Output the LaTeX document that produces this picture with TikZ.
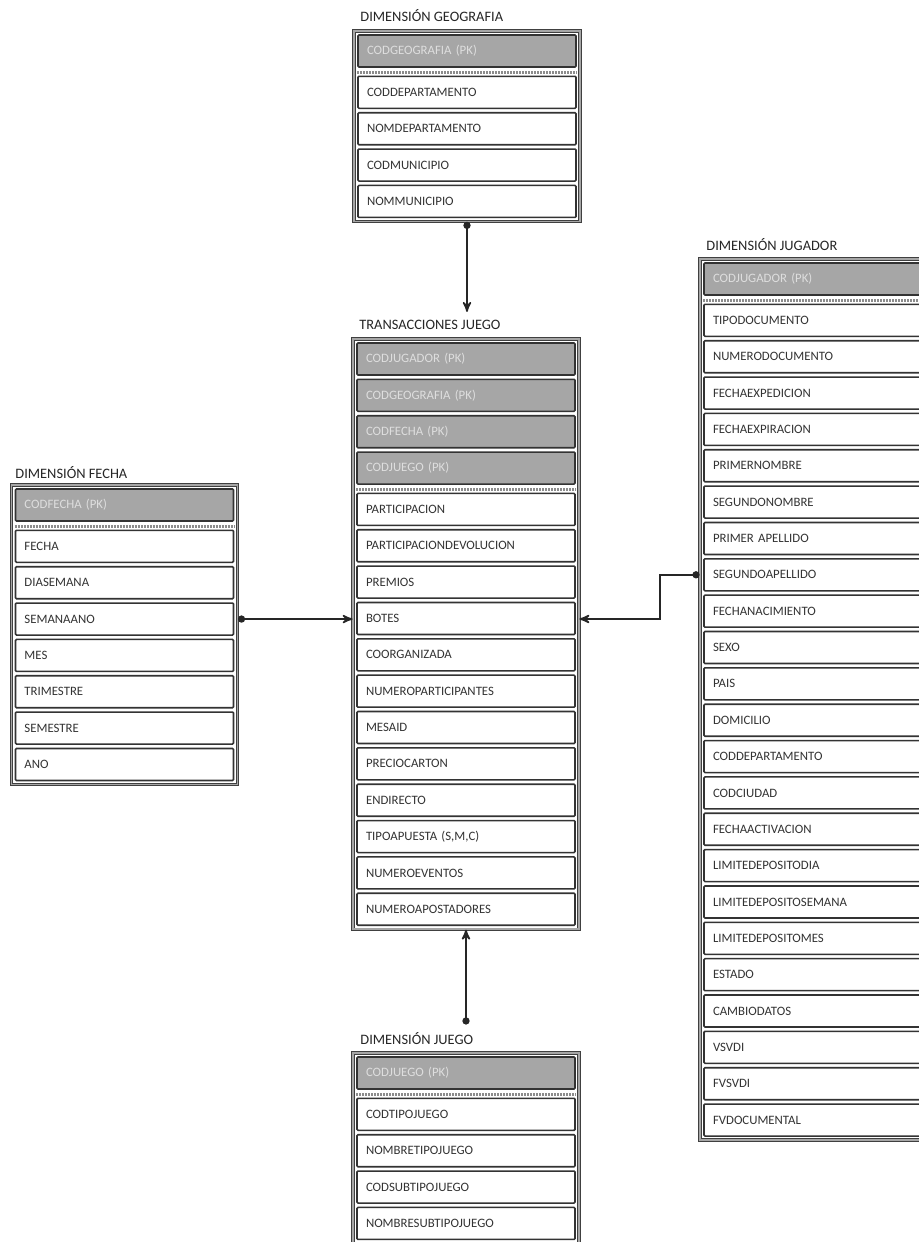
\documentclass[tikz,border=0pt]{standalone}
\usepackage{fontspec}
\setmainfont{Carlito}
\usepackage{tikz}
\usetikzlibrary{arrows,arrows.meta,fit}

\begin{document}
\begin{tikzpicture}
[x=0.5pt,y=-0.5pt,
  campo/.style={draw=black!80,line width=0.8pt,fill=white,rounded corners=0.5pt,
    minimum height=16pt,text width=100pt,inner xsep=4.5pt,inner ysep=0pt,align=left,
    font=\fontsize{6.4}{7}\selectfont,text=black!80},
  clave/.style={campo,fill=black!35,text=black!13},
  marco/.style={draw=black!75,line width=0.4pt,double=black!35,double distance=0.8pt,inner sep=1.6pt},
  titulo/.style={anchor=west,inner sep=0pt,font=\fontsize{7.2}{8}\selectfont,text=black!85},
  separa/.style={draw=black!45,line width=1.6pt,dash pattern=on 1pt off 0.5pt},
  enlace/.style={{Circle[length=3.6pt,width=3.6pt]}->,>=stealth',draw=black!85,line width=0.8pt}]
  \path[fill=white,use as bounding box] (0,0) rectangle (918,1242);

  % dimension geografia
  \node[titulo] (tgeo) at (360,16) {DIMENSIÓN GEOGRAFIA};
  \node[clave] (geopk) at (467,51) {CODGEOGRAFIA (PK)};
  \foreach \t [count=\i] in {CODDEPARTAMENTO,NOMDEPARTAMENTO,CODMUNICIPIO,NOMMUNICIPIO}
    \node[campo] (geo\i) at (467,{92.35+(\i-1)*36.35}) {\t};
  \node[marco,fit=(geopk)(geo4)] (fgeo) {};
  \draw[separa] ([yshift=-2.25pt]geopk.south west) -- ([yshift=-2.25pt]geopk.south east);

  % tabla de hechos
  \node[titulo] (ttrans) at (359,325) {TRANSACCIONES JUEGO};
  \foreach \t [count=\i] in {CODJUGADOR (PK),CODGEOGRAFIA (PK),CODFECHA (PK),CODJUEGO (PK)}
    \node[clave] (transpk\i) at (466,{359+(\i-1)*36.35}) {\t};
  \foreach \t [count=\i] in {PARTICIPACION,PARTICIPACIONDEVOLUCION,PREMIOS,BOTES,
      COORGANIZADA,NUMEROPARTICIPANTES,MESAID,PRECIOCARTON,ENDIRECTO,
      {TIPOAPUESTA (S,M,C)},NUMEROEVENTOS,NUMEROAPOSTADORES}
    \node[campo] (trans\i) at (466,{509.4+(\i-1)*36.35}) {\t};
  \node[marco,fit=(transpk1)(trans12)] (ftrans) {};
  \draw[separa] ([yshift=-2.25pt]transpk4.south west) -- ([yshift=-2.25pt]transpk4.south east);

  % dimension fecha
  \node[titulo] (tfecha) at (15,473) {DIMENSIÓN FECHA};
  \node[clave] (fechapk) at (124.5,505) {CODFECHA (PK)};
  \foreach \t [count=\i] in {FECHA,DIASEMANA,SEMANAANO,MES,TRIMESTRE,SEMESTRE,ANO}
    \node[campo] (fecha\i) at (124.5,{546.35+(\i-1)*36.35}) {\t};
  \node[marco,fit=(fechapk)(fecha7)] (ffecha) {};
  \draw[separa] ([yshift=-2.25pt]fechapk.south west) -- ([yshift=-2.25pt]fechapk.south east);

  % dimension jugador
  \node[titulo] (tjug) at (706,245) {DIMENSIÓN JUGADOR};
  \node[clave] (jugpk) at (813,279) {CODJUGADOR (PK)};
  \foreach \t [count=\i] in {TIPODOCUMENTO,NUMERODOCUMENTO,FECHAEXPEDICION,FECHAEXPIRACION,
      PRIMERNOMBRE,SEGUNDONOMBRE,PRIMER APELLIDO,SEGUNDOAPELLIDO,FECHANACIMIENTO,
      SEXO,PAIS,DOMICILIO,CODDEPARTAMENTO,CODCIUDAD,FECHAACTIVACION,
      LIMITEDEPOSITODIA,LIMITEDEPOSITOSEMANA,LIMITEDEPOSITOMES,ESTADO,
      CAMBIODATOS,VSVDI,FVSVDI,FVDOCUMENTAL}
    \node[campo] (jug\i) at (813,{320.35+(\i-1)*36.35}) {\t};
  \node[marco,fit=(jugpk)(jug23)] (fjug) {};
  \draw[separa] ([yshift=-2.25pt]jugpk.south west) -- ([yshift=-2.25pt]jugpk.south east);

  % dimension juego
  \node[titulo] (tjuego) at (360,1039) {DIMENSIÓN JUEGO};
  \node[clave] (juegopk) at (466,1073) {CODJUEGO (PK)};
  \foreach \t [count=\i] in {CODTIPOJUEGO,NOMBRETIPOJUEGO,CODSUBTIPOJUEGO,NOMBRESUBTIPOJUEGO}
    \node[campo] (juego\i) at (466,{1114.35+(\i-1)*36.35}) {\t};
  \node[marco,fit=(juegopk)(juego4)] (fjuego) {};
  \draw[separa] ([yshift=-2.25pt]juegopk.south west) -- ([yshift=-2.25pt]juegopk.south east);

  % relaciones
  \coordinate (codo) at (660,619);
  \draw[enlace,shorten >=4pt] (fgeo.south) -- (fgeo.south |- ttrans.north);
  \draw[enlace] (fecha3 -| ffecha.east) -- (fecha3 -| ftrans.west);
  \draw[enlace] (jug8 -| fjug.west) -| (codo) -- (codo -| ftrans.east);
  \draw[enlace,shorten <=4pt] (ftrans.south |- tjuego.north) -- (ftrans.south);

\end{tikzpicture}
\end{document}
